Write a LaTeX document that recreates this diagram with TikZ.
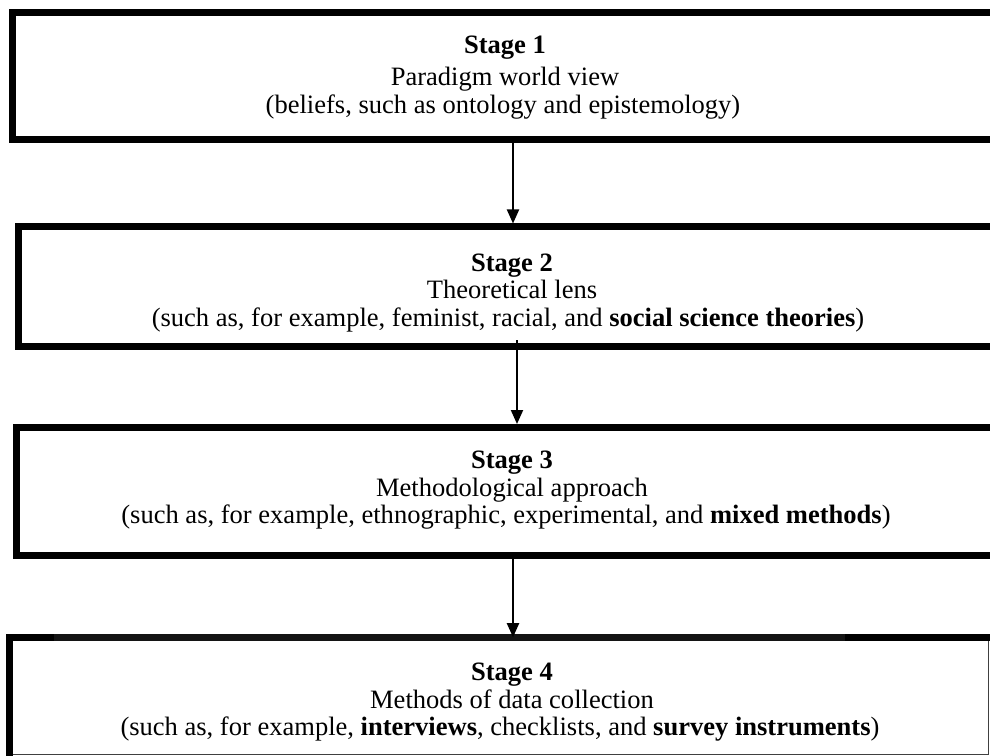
\documentclass[tikz,border=0pt]{standalone}
\usepackage{fontspec}
\setmainfont{Liberation Serif}
\usetikzlibrary{fit,arrows.meta}
% left padding that moves a centred line to the right
\newcommand{\padl}[1]{\hspace*{#1}}
\begin{document}
\begin{tikzpicture}[x=0.75pt,y=-0.75pt,
  frame/.style={draw=black, line width=5.25pt, inner sep=0pt},
  stagetext/.style={align=center, inner sep=0pt, font=\fontsize{19.9}{20.6}\selectfont},
  flow/.style={line width=1.5pt, -{Triangle[length=10.5pt,width=9pt]}}]
\useasboundingbox (0,0) rectangle (990,756);
\clip (0,0) rectangle (990,756);

% stage frames (right sides run past the page edge)
\node[frame, fit={(12.5,12.5) (1010,139.5)}] (b1) {};
\node[frame, fit={(18.5,227) (1010,347)}] (b2) {};
\node[frame, fit={(16.5,427.5) (1010,555)}] (b3) {};
\node[inner sep=0pt, fit={(10,637.5) (988,754)}] (b4) {};
\draw[line width=1.1pt, black!75] (b4.north east) -- (b4.south east) -- (b4.south west);
\draw[line width=5.25pt] ([yshift=-5pt]b4.south west) -- (b4.north west) -- ([xshift=3pt]b4.north east);
\draw[line width=5.25pt, black!92] (54,637.5) -- (845,637.5);

% stage texts
\node[stagetext] (t1) at (503,77.5) {\padl{3pt}\textbf{Stage 1}\\[3.5pt]\padl{3pt}Paradigm world view\\(beliefs, such as ontology and epistemology)};
\node[stagetext] (t2) at (508,293) {\padl{6pt}\textbf{Stage 2}\\\padl{6pt}Theoretical lens\\(such as, for example, feminist, racial, and \textbf{social science theories})};
\node[stagetext] (t3) at (506,490.5) {\padl{9pt}\textbf{Stage 3}\\\padl{9pt}Methodological approach\\(such as, for example, ethnographic, experimental, and \textbf{mixed methods})};
\node[stagetext] (t4) at (500,702.5) {\padl{18pt}\textbf{Stage 4}\\\padl{18pt}Methods of data collection\\(such as, for example, \textbf{interviews}, checklists, and \textbf{survey instruments})};

% connectors
\coordinate (c1) at (513,0);
\coordinate (c2) at (517,0);
\coordinate (c3) at (513,0);
\draw[flow] (b1.south -| c1) -- (b2.north -| c1);
\draw[flow] ([yshift=7.5pt]b2.south -| c2) -- (b3.north -| c2);
\draw[flow] (b3.south -| c3) -- (b4.north -| c3);
\end{tikzpicture}
\end{document}
